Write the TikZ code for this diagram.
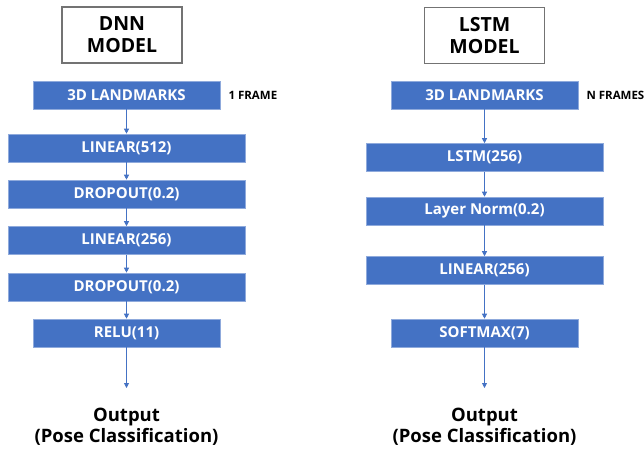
\documentclass[tikz,border=0pt]{standalone}
\usepackage{fontspec}
\setmainfont{Open Sans}[UprightFont=*, BoldFont=* Bold]
\usetikzlibrary{arrows.meta}
\definecolor{obl}{HTML}{4472C4}
\definecolor{obledge}{HTML}{8FAADC}
\begin{document}
\begin{tikzpicture}[x=1pt,y=-1pt,
  layer/.style={fill=obl,draw=obledge,line width=0.6pt,minimum height=28pt,inner sep=0pt,
    text=white,font=\bfseries\fontsize{15}{17}\selectfont},
  titlebox/.style={draw=black!55,line width=1.2pt,fill=white,minimum width=120pt,minimum height=56pt,
    align=center,font=\bfseries\fontsize{19.5}{22}\selectfont},
  flow/.style={draw=obl,line width=0.8pt,-{Triangle[length=5pt,width=5pt]}},
  side/.style={anchor=west,font=\bfseries\fontsize{11.5}{13}\selectfont},
  outtext/.style={align=center,font=\bfseries\fontsize{18.5}{21}\selectfont}]
\clip (0,0) rectangle (644,450);
\fill[white] (0,0) rectangle (644,450);
% left column
\node[titlebox] (dnnt) at (122,35) {DNN\\MODEL};
\node[layer,minimum width=187pt] (dl) at (126.5,95) {3D LANDMARKS};
\node[side] (df) at (225,95) {1 FRAME};
\node[layer,minimum width=237pt] (d1) at (126.5,148) {LINEAR(512)};
\node[layer,minimum width=237pt] (d2) at (126.5,194) {DROPOUT(0.2)};
\node[layer,minimum width=237pt] (d3) at (126.5,240.5) {LINEAR(256)};
\node[layer,minimum width=237pt] (d4) at (126.5,287) {DROPOUT(0.2)};
\node[layer,minimum width=187pt] (d5) at (126.5,333) {RELU(11)};
\coordinate (dend) at (126.5,388);
\node[outtext] (dout) at (126.5,427) {Output\\(Pose Classification)};
\draw[flow] (dl) -- (d1);
\draw[flow] (d1) -- (d2);
\draw[flow] (d2) -- (d3);
\draw[flow] (d3) -- (d4);
\draw[flow] (d4) -- (d5);
\draw[flow] (d5) -- (dend);
% right column
\node[titlebox] (lstt) at (484.5,35.5) {LSTM\\MODEL};
\node[layer,minimum width=187pt] (ll) at (484.5,95) {3D LANDMARKS};
\node[side] (lf) at (583,95) {N FRAMES};
\node[layer,minimum width=237pt] (l1) at (484.5,157.5) {LSTM(256)};
\node[layer,minimum width=237pt] (l2) at (484.5,211) {Layer Norm(0.2)};
\node[layer,minimum width=237pt] (l3) at (484.5,270.5) {LINEAR(256)};
\node[layer,minimum width=187pt] (l4) at (484.5,333) {SOFTMAX(7)};
\coordinate (lend) at (484.5,388);
\node[outtext] (lout) at (484.5,427) {Output\\(Pose Classification)};
\draw[flow] (ll) -- (l1);
\draw[flow] (l1) -- (l2);
\draw[flow] (l2) -- (l3);
\draw[flow] (l3) -- (l4);
\draw[flow] (l4) -- (lend);
\end{tikzpicture}
\end{document}
